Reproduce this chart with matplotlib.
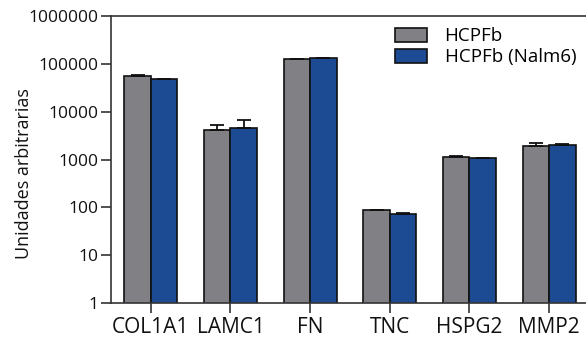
import numpy as np
import matplotlib
matplotlib.use("Agg")
import matplotlib.pyplot as plt

plt.rcParams['font.family'] = ['Open Sans', 'DejaVu Sans']

genes = ["COL1A1", "LAMC1", "FN", "TNC", "HSPG2", "MMP2"]
hcpfb = [55600, 4060, 126000, 87, 1140, 1900]
hcpfb_err = [2500, 1200, 1500, 1.5, 70, 300]
nalm6 = [47300, 4540, 130000, 71, 1055, 2040]
nalm6_err = [500, 2000, 3500, 4.5, 15, 40]
series_labels = ["HCPFb", "HCPFb (Nalm6)"]
yticks = [1, 10, 100, 1000, 10000, 100000, 1000000]
ytick_labels = ["1", "10", "100", "1000", "10000", "100000", "1000000"]

gray = "#808085"
blue = "#1c4b94"

fig = plt.figure(figsize=(5.86, 3.38), dpi=100)
ax = fig.add_axes([111/586, 1 - 303/338, 478/586, 287/338])

x = np.arange(len(genes))
w = 1/3
ekw = dict(elinewidth=1.3, capthick=1.3, ecolor="#111111")
ax.bar(x - w/2, hcpfb, w, color=gray, edgecolor="#111111", linewidth=1.2,
       yerr=[np.zeros(len(hcpfb)), hcpfb_err], capsize=5, error_kw=ekw,
       label=series_labels[0])
ax.bar(x + w/2, nalm6, w, color=blue, edgecolor="#111111", linewidth=1.2,
       yerr=[np.zeros(len(nalm6)), nalm6_err], capsize=5, error_kw=ekw,
       label=series_labels[1])

ax.set_yscale("log")
ax.set_ylim(1, 1e6)
ax.set_xlim(-0.5, len(genes) - 0.5)
ax.set_yticks(yticks)
ax.set_yticklabels(ytick_labels)
ax.yaxis.set_minor_locator(matplotlib.ticker.NullLocator())
ax.set_xticks(x)
ax.set_xticklabels(genes)

for s in ["top", "left", "bottom", "right"]:
    ax.spines[s].set_linewidth(1.2)
    ax.spines[s].set_color("#333333")

ax.tick_params(axis="both", length=7, width=1.2, color="#333333",
               labelsize=12.5, labelcolor="#111111", pad=2)
ax.tick_params(axis="x", labelsize=15, pad=3)
ax.set_ylabel("Unidades arbitrarias", fontsize=13, color="#111111")
ax.yaxis.set_label_coords(-0.163, 0.45)

leg = ax.legend(loc="upper left", bbox_to_anchor=(0.594, 0.961), frameon=False,
                fontsize=13.5, handlelength=1.7, handleheight=0.75,
                handletextpad=0.95, labelspacing=0.17, borderaxespad=0,
                borderpad=0)

fig.savefig("out.png", dpi=100)
